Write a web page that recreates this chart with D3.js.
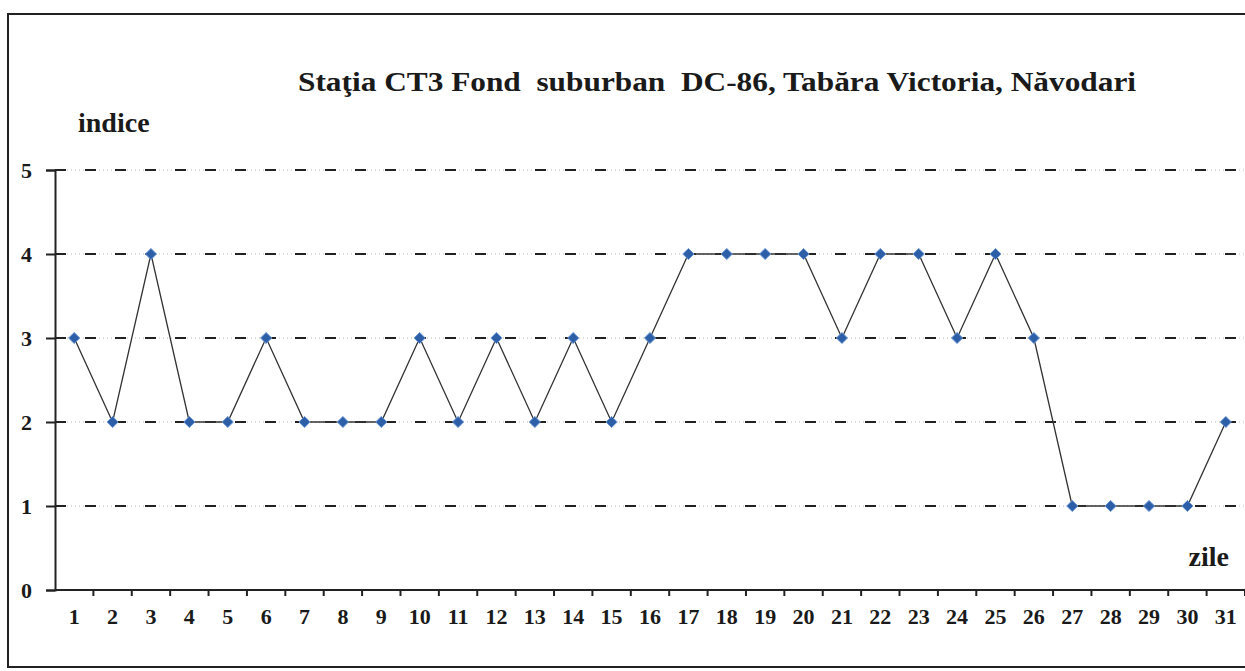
<!DOCTYPE html>
<html>
<head>
<meta charset="utf-8">
<script src="https://cdn.jsdelivr.net/npm/d3@7"></script>
<style>
  body { margin: 0; background: #fff; }
  text { font-family: "Liberation Serif", "Times New Roman", serif; font-weight: bold; fill: #1a1a1a; white-space: pre; }
</style>
</head>
<body>
<div class="canvas"></div>
<script>
const days = d3.range(1, 32);
const indexValues = [3, 2, 4, 2, 2, 3, 2, 2, 2, 3, 2, 3, 2, 3, 2, 3, 4, 4, 4, 4, 3, 4, 4, 3, 4, 3, 1, 1, 1, 1, 2];
const yTicks = [0, 1, 2, 3, 4, 5];
const titleText = 'Staţia CT3 Fond  suburban  DC-86, Tabăra Victoria, Năvodari';

const outerWidth = 1245;
const outerHeight = 671;
const margin = {top: 170, right: 0, bottom: 81, left: 55};
const graphWidth = outerWidth - margin.left - margin.right;
const graphHeight = outerHeight - margin.top - margin.bottom;

const svg = d3.select('.canvas')
    .append('svg')
    .attr('width', outerWidth)
    .attr('height', outerHeight);

// scanned page frame
svg.append('rect')
    .attr('x', 8)
    .attr('y', 14)
    .attr('width', outerWidth + 20)
    .attr('height', 653)
    .attr('fill', 'none')
    .attr('stroke', '#222')
    .attr('stroke-width', 2);

const graph = svg.append('g')
    .attr('transform', `translate(${margin.left}, ${margin.top})`);

const x = d3.scaleBand().domain(days).range([0, graphWidth]);
const y = d3.scaleLinear().domain([0, 5]).range([graphHeight, 0]);

// Gridlines: faint dots plus dark dashes
const grid = graph.append('g').attr('class', 'grid');
yTicks.filter(d => d > 0).forEach(d => {
    grid.append('line')
        .attr('x1', 0).attr('x2', graphWidth)
        .attr('y1', y(d)).attr('y2', y(d))
        .attr('stroke', '#b8b8b8')
        .attr('stroke-width', 1)
        .attr('stroke-dasharray', '1,3');
    grid.append('line')
        .attr('x1', 0).attr('x2', graphWidth)
        .attr('y1', y(d)).attr('y2', y(d))
        .attr('stroke', '#222')
        .attr('stroke-width', 2)
        .attr('stroke-dasharray', '11,19')
        .attr('stroke-dashoffset', -30);
});

// Y axis
const yAxis = d3.axisLeft(y)
    .tickValues(yTicks)
    .tickSize(9)
    .tickPadding(14)
    .tickFormat(d3.format('d'));

const yAxisGroup = graph.append('g').call(yAxis);
yAxisGroup.select('.domain').attr('stroke', '#222').attr('stroke-width', 2);
yAxisGroup.selectAll('line').attr('stroke', '#222').attr('stroke-width', 2);
yAxisGroup.selectAll('text')
    .attr('font-family', '"Liberation Serif", serif')
    .attr('font-weight', 'bold')
    .attr('font-size', 22)
    .attr('fill', '#1a1a1a');

// X axis: baseline plus ticks between days
const xAxisGroup = graph.append('g')
    .attr('transform', `translate(0, ${graphHeight})`);

xAxisGroup.append('line')
    .attr('x1', 0).attr('x2', graphWidth)
    .attr('stroke', '#222')
    .attr('stroke-width', 2);

xAxisGroup.selectAll('.sep')
    .data(days)
    .enter()
    .append('line')
    .attr('class', 'sep')
    .attr('x1', d => x(d) + x.bandwidth())
    .attr('x2', d => x(d) + x.bandwidth())
    .attr('y1', 0).attr('y2', 6)
    .attr('stroke', '#222')
    .attr('stroke-width', 2);

xAxisGroup.selectAll('.day')
    .data(days)
    .enter()
    .append('text')
    .attr('class', 'day')
    .attr('x', d => x(d) + x.bandwidth() / 2)
    .attr('y', 34)
    .attr('text-anchor', 'middle')
    .attr('font-size', 22)
    .text(d => d);

// Line
const line = d3.line()
    .x((d, i) => x(days[i]) + x.bandwidth() / 2)
    .y(d => y(d));

graph.append('path')
    .datum(indexValues)
    .attr('fill', 'none')
    .attr('stroke', '#333')
    .attr('stroke-width', 1.3)
    .attr('d', line);

// Diamond markers
graph.selectAll('.pt')
    .data(indexValues)
    .enter()
    .append('path')
    .attr('class', 'pt')
    .attr('d', d3.symbol().type(d3.symbolDiamond2).size(80))
    .attr('transform', (d, i) => `translate(${x(days[i]) + x.bandwidth() / 2}, ${y(d)})`)
    .attr('fill', '#2d5ea8')
    .attr('stroke', '#6f9ad6')
    .attr('stroke-width', 1);

// Titles
svg.append('text')
    .attr('x', 717)
    .attr('y', 91)
    .attr('text-anchor', 'middle')
    .attr('font-size', 27)
    .attr('textLength', 838)
    .attr('lengthAdjust', 'spacingAndGlyphs')
    .text(titleText);

svg.append('text')
    .attr('x', 78)
    .attr('y', 132)
    .attr('font-size', 28)
    .text('indice');

svg.append('text')
    .attr('x', 1229)
    .attr('y', 566)
    .attr('text-anchor', 'end')
    .attr('font-size', 28)
    .text('zile');
</script>
</body>
</html>
